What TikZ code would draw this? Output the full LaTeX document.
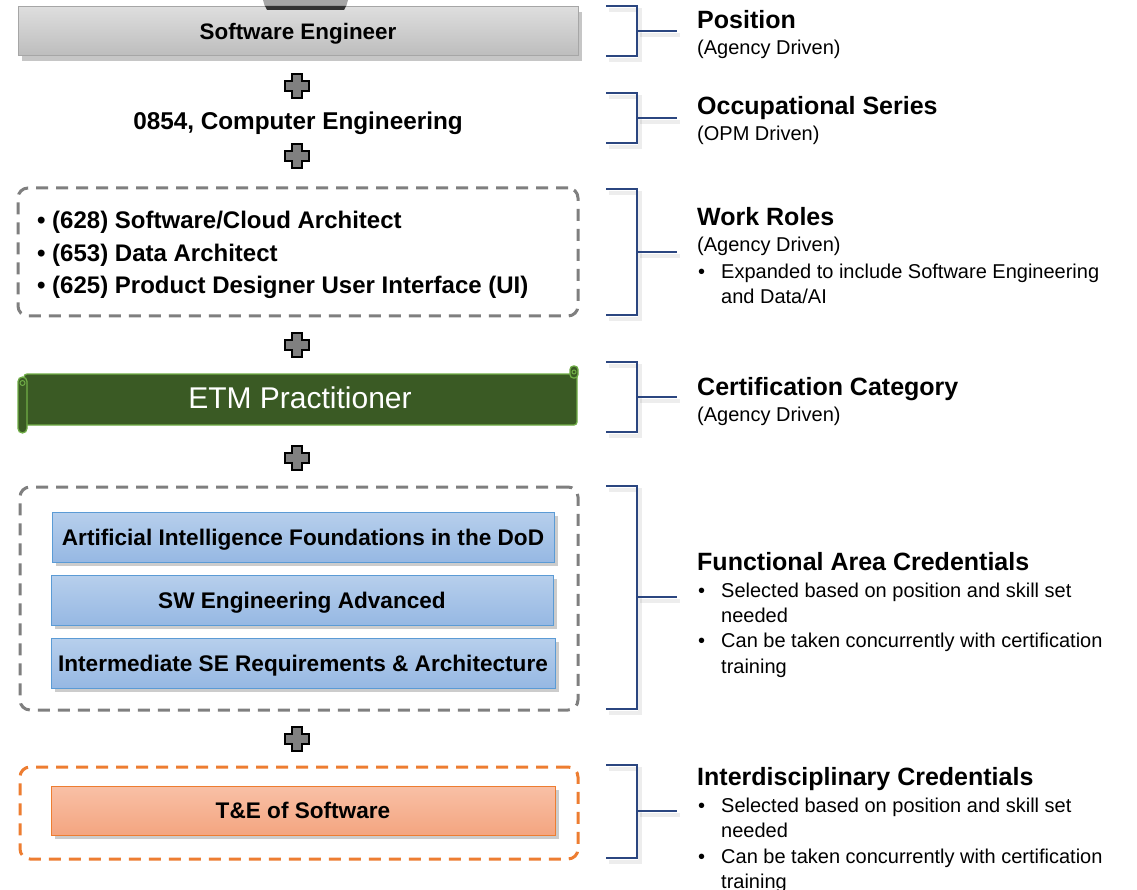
\documentclass[tikz,border=0pt]{standalone}
\usepackage{fontspec}
\setmainfont{Liberation Sans}
\usetikzlibrary{shadows}
\definecolor{framegray}{HTML}{7F7F7F}
\definecolor{plusgray}{HTML}{808080}
\definecolor{bracketblue}{HTML}{2B4680}
\definecolor{scrollgreen}{HTML}{3A5A24}
\definecolor{scrollrim}{HTML}{70AD47}
\definecolor{credtop}{HTML}{B7CFEC}
\definecolor{credbot}{HTML}{96B8E3}
\definecolor{credrim}{HTML}{5B9BD5}
\definecolor{intertop}{HTML}{F8C0A6}
\definecolor{interbot}{HTML}{F4A580}
\definecolor{interrim}{HTML}{ED7D31}
\newcommand\setfs[1]{\fontsize{#1}{#1}\selectfont}
\tikzset{
  titlebox/.style={draw=black!35, line width=1pt, top color=black!13, bottom color=black!26,
    minimum width=560pt, minimum height=49pt, inner sep=0pt, font=\setfs{22.4}\bfseries,
    text height=16pt, text depth=0pt,
    drop shadow={opacity=.45, shadow xshift=4pt, shadow yshift=-5pt}},
  roleframe/.style={draw=framegray, line width=3pt, dash pattern=on 12pt off 8pt,
    rounded corners=10pt, inner sep=0pt},
  credbox/.style={draw=credrim, line width=1pt, top color=credtop, bottom color=credbot,
    minimum width=502pt, minimum height=50pt, inner sep=0pt, font=\setfs{22.6}\bfseries,
    text height=16.2pt, text depth=0pt,
    drop shadow={opacity=.4, shadow xshift=4pt, shadow yshift=-4pt}},
  interbox/.style={credbox, draw=interrim, top color=intertop, bottom color=interbot},
  rolebul/.style={anchor=base west, inner sep=0pt, font=\setfs{24}\bfseries},
  head/.style={anchor=base west, inner sep=0pt, font=\setfs{25}\bfseries},
  sub/.style={anchor=base west, inner sep=0pt, font=\setfs{20}},
  brk/.style={draw=bracketblue, line width=1.5pt},
  brkshade/.style={draw=black, opacity=.07, line width=4pt},
  crossmark/.pic={\draw[fill=plusgray, line width=1.8pt] (-5,-12) -- (5,-12) -- (5,-5) -- (12,-5)
    -- (12,5) -- (5,5) -- (5,12) -- (-5,12) -- (-5,5) -- (-12,5) -- (-12,-5) -- (-5,-5) -- cycle;}
}
\begin{document}
\begin{tikzpicture}[x=1pt, y=-1pt]
  \useasboundingbox (0,0) rectangle (1137,890);

  \node[titlebox] (A0_0) at (298,31.5) {Software Engineer};
  \fill[black!35] (263,0) -- (348,0) -- (346,7) -- (265,7) -- cycle;
  \fill[black!80] (265,6) -- (346,6) -- (344,10) -- (267,10) -- cycle;
  \node[font=\setfs{24.3}\bfseries, anchor=base, inner sep=0pt] (A1_0) at (298,130) {0854, Computer Engineering};

  \node[roleframe, minimum width=560pt, minimum height=128pt] (A2_0) at (298,252) {};
  \node[rolebul] (A2_a) at (37,229) {• (628) Software/Cloud Architect};
  \node[rolebul] (A2_b) at (37,262) {• (653) Data Architect};
  \node[rolebul] (A2_c) at (37,294) {• (625) Product Designer User Interface (UI)};

  \filldraw[fill=scrollgreen, draw=scrollrim, line width=1.3pt, rounded corners=3pt]
    (24,374) rectangle (577,425);
  \filldraw[fill=scrollgreen, draw=scrollrim, line width=1.3pt, rounded corners=3.5pt]
    (570,366) rectangle (578,378);
  \draw[scrollrim, line width=1pt] (574,372) circle (2pt);
  \filldraw[fill=scrollgreen, draw=scrollrim, line width=1.3pt, rounded corners=4.5pt]
    (18,377) rectangle (27,433);
  \draw[scrollrim, line width=1pt] (22.5,383) circle (2.5pt);
  \node[font=\setfs{30}, text=white] (A3_0) at (300,398) {ETM Practitioner};

  \node[roleframe, minimum width=558pt, minimum height=223pt] (A4_0) at (299,598.5) {};
  \node[credbox] (A4_a) at (303,537) {Artificial Intelligence Foundations in the DoD};
  \node[credbox] (A4_b) at (302,600) {SW Engineering Advanced};
  \node[credbox, minimum width=504pt] (A4_c) at (303,663) {Intermediate SE Requirements \& Architecture};

  \node[roleframe, draw=interrim, minimum width=558pt, minimum height=92pt] (A5_0) at (299,813) {};
  \node[interbox, minimum width=504pt, minimum height=49pt] (A5_a) at (303,810.5) {T\&E of Software};

  \foreach \py in {86,156,345,458,739}
    \pic at (297,\py) {crossmark};

  \foreach \t/\b in {6/56, 93/143, 189/315, 362/432, 486/709, 765/858} {
    \pgfmathtruncatemacro\m{(\t+\b)/2}
    \draw[brkshade] (609,\t+4) -- (640,\t+4) -- (640,\b+4) -- (609,\b+4);
    \draw[brkshade] (640,\m+4) -- (680,\m+4);
    \draw[brk] (606,\t) -- (637,\t) -- (637,\b) -- (606,\b);
    \draw[brk] (637,\m) -- (677,\m);
  }

  \node[head] (A0_1) at (697,29) {Position};
  \node[sub] (A0_2) at (697,55) {(Agency Driven)};

  \node[head] (A1_1) at (697,115) {Occupational Series};
  \node[sub] (A1_2) at (697,141) {(OPM Driven)};

  \node[head] (A2_1) at (697,226) {Work Roles};
  \node[sub] (A2_2) at (697,252) {(Agency Driven)};
  \node[sub] (A2_3) at (698,279) {•};
  \node[sub] (A2_4) at (721,279) {Expanded to include Software Engineering};
  \node[sub] (A2_5) at (721,304) {and Data/AI};

  \node[head] (A3_1) at (697,395) {Certification Category};
  \node[sub] (A3_2) at (697,421) {(Agency Driven)};

  \node[head] (A4_1) at (697,570) {Functional Area Credentials};
  \node[sub] (A4_2) at (698,597) {•};
  \node[sub] (A4_3) at (721,597) {Selected based on position and skill set};
  \node[sub] (A4_4) at (721,622) {needed};
  \node[sub] (A4_5) at (698,647) {•};
  \node[sub] (A4_6) at (721,647) {Can be taken concurrently with certification};
  \node[sub] (A4_7) at (721,673) {training};

  \node[head] (A5_1) at (697,785) {Interdisciplinary Credentials};
  \node[sub] (A5_2) at (698,812) {•};
  \node[sub] (A5_3) at (721,812) {Selected based on position and skill set};
  \node[sub] (A5_4) at (721,837) {needed};
  \node[sub] (A5_5) at (698,863) {•};
  \node[sub] (A5_6) at (721,863) {Can be taken concurrently with certification};
  \node[sub] (A5_7) at (721,888) {training};
\end{tikzpicture}
\end{document}
